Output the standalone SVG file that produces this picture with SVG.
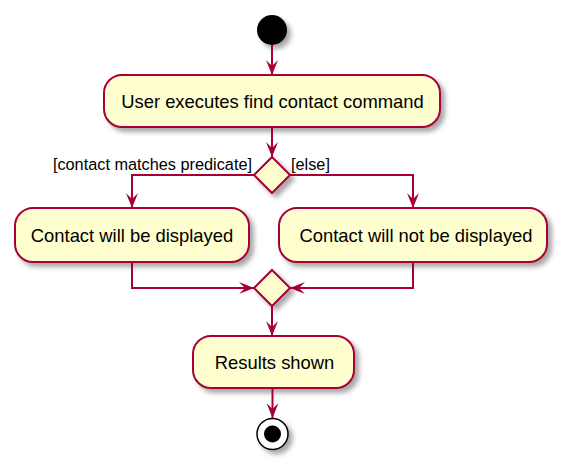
<svg xmlns="http://www.w3.org/2000/svg" width="562" height="466" viewBox="0 0 562 466">
<defs>
<filter id="sh" x="-20%" y="-20%" width="150%" height="160%">
<feGaussianBlur in="SourceAlpha" stdDeviation="2.5"/>
<feOffset dx="4" dy="4" result="b"/>
<feComponentTransfer><feFuncA type="linear" slope="0.35"/></feComponentTransfer>
<feMerge><feMergeNode/><feMergeNode in="SourceGraphic"/></feMerge>
</filter>
<marker id="ah" viewBox="0 0 15 12" refX="15" refY="6" markerWidth="15" markerHeight="12" markerUnits="userSpaceOnUse" orient="auto">
<polygon points="0,0 15,6 0,12 6,6" fill="#A80036"/>
</marker>
</defs>
<style>
.box{fill:#FEFECE;stroke:#A80036;stroke-width:2;filter:url(#sh)}
.t{font-family:"Liberation Sans",Arial,sans-serif;font-size:18.4px;fill:#000;text-anchor:middle}
.lbl{font-family:"Liberation Sans",Arial,sans-serif;font-size:16.3px;fill:#000}
.c{fill:none;stroke:#A80036;stroke-width:2;marker-end:url(#ah)}
</style>
<rect width="562" height="466" fill="#FFFFFF"/>
<g id="start"><circle cx="272" cy="30" r="15" fill="#000" filter="url(#sh)"/></g>
<g id="n1"><rect class="box" x="104" y="75" width="336" height="52" rx="18"/><text class="t" x="272.5" y="108">User executes find contact command</text></g>
<g id="d1"><polygon class="box" points="272,157 290,175 272,193 254,175"/></g>
<g id="n2"><rect class="box" x="15" y="208" width="234" height="54" rx="18"/><text class="t" x="132" y="242">Contact will be displayed</text></g>
<g id="n3"><rect class="box" x="279" y="208" width="268" height="54" rx="18"/><text class="t" x="416" y="242">Contact will not be displayed</text></g>
<g id="d2"><polygon class="box" points="272,270 290,288 272,306 254,288"/></g>
<g id="n4"><rect class="box" x="193" y="336" width="161" height="52" rx="18"/><text class="t" x="274.5" y="369">Results shown</text></g>
<g id="stop"><circle cx="272.5" cy="434" r="15.5" fill="#FFFFFF" stroke="#000" stroke-width="1.5" filter="url(#sh)"/><circle cx="272.5" cy="434" r="8.5" fill="#000"/></g>
<g id="connectors">
<path class="c" d="M272,45 V75"/>
<path class="c" d="M272,127 V157"/>
<path class="c" d="M254,175 H132 V208"/>
<path class="c" d="M290,175 H413 V208"/>
<path class="c" d="M132,262 V288 H254"/>
<path class="c" d="M413,262 V288 H290"/>
<path class="c" d="M272,306 V336"/>
<path class="c" d="M272.5,388 V418"/>
<text class="lbl" x="252" y="170" text-anchor="end">[contact matches predicate]</text>
<text class="lbl" x="291" y="170">[else]</text>
</g>
</svg>
